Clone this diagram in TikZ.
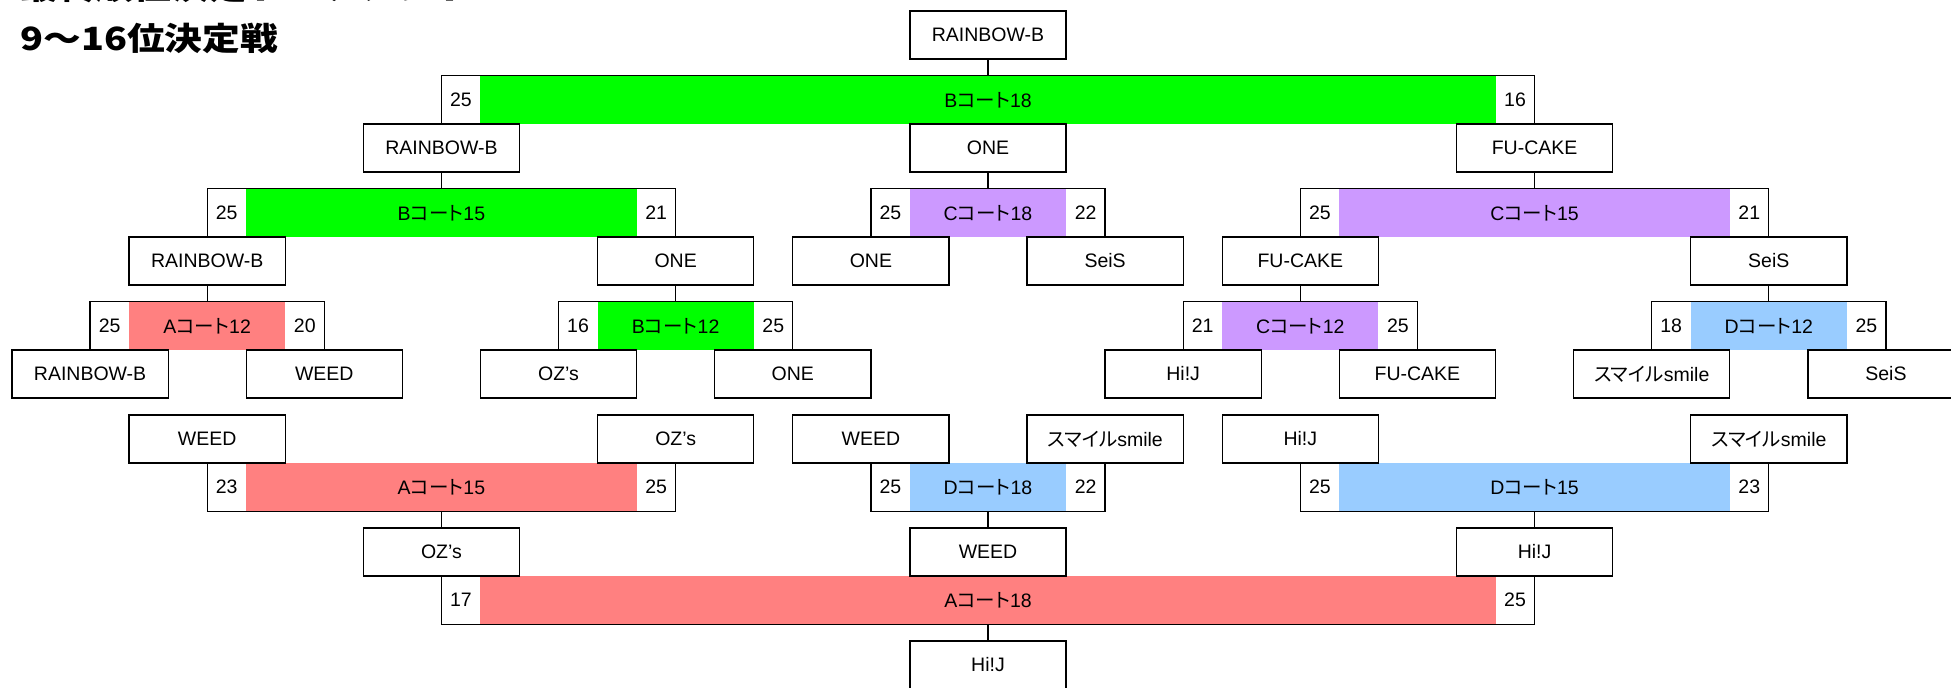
\documentclass[tikz,border=0pt]{standalone}
\usepackage{graphicx}
\usepackage{fontspec}
\setmainfont{Liberation Sans}
\newfontfamily\jp{Noto Sans CJK JP}[RawFeature=+palt]
\newfontfamily\jpt{Noto Sans CJK JP}
\definecolor{cgreen}{HTML}{00FF00}
\definecolor{cred}{HTML}{FF8080}
\definecolor{cpurple}{HTML}{CC99FF}
\definecolor{cblue}{HTML}{99CCFF}
\newcommand\kt{{\jp コート}}
\newcommand\sm{{\jp スマイル}smile}
\newcommand\team[4]{\node[team] (#1) at ({12+39.04*#2},#3) {#4};}
\newcommand\mbar[8]{%
  \pgfmathsetmacro\mw{(#3-#2-2)*19.52}%
  \node[court, fill=#5, minimum width=\mw pt] (#1) at ({12+39.04*(#2+#3)/2},#4) {#6};
  \node[score] (#1l) at ({12+39.04*(#2+0.5)},#4) {#7};
  \node[score] (#1r) at ({12+39.04*(#3-0.5)},#4) {#8};
}
\begin{document}
\begin{tikzpicture}[x=0.5pt,y=-0.5pt,
  txt/.style={font=\fontsize{9.75pt}{11pt}\selectfont},
  team/.style={txt, draw, line width=0.65pt, fill=white, minimum width=78.08pt, minimum height=24pt, inner sep=0pt},
  court/.style={txt, inner sep=0pt, minimum height=24pt},
  score/.style={txt, inner sep=0pt, minimum width=19.52pt, minimum height=24pt},
  titlefont/.style={font=\jpt\bfseries\fontsize{16pt}{18pt}\selectfont},
  link/.style={line width=0.65pt}]
\useasboundingbox (0,0) rectangle (1951,687);
% titles
\node[anchor=base west, inner sep=0pt, titlefont] (title1) at (20,-1) {\scalebox{1.18}[1]{最終順位決定トーナメント}};
\node[anchor=base west, inner sep=0pt, titlefont] (title2) at (20,50) {\scalebox{1.18}[1]{9〜16位決定戦}};
% match bars
\mbar{m1}{11}{39}{100}{cgreen}{B\kt18}{25}{16}
\mbar{m2}{5}{17}{213}{cgreen}{B\kt15}{25}{21}
\mbar{m3}{22}{28}{213}{cpurple}{C\kt18}{25}{22}
\mbar{m4}{33}{45}{213}{cpurple}{C\kt15}{25}{21}
\mbar{m5}{2}{8}{326}{cred}{A\kt12}{25}{20}
\mbar{m6}{14}{20}{326}{cgreen}{B\kt12}{16}{25}
\mbar{m7}{30}{36}{326}{cpurple}{C\kt12}{21}{25}
\mbar{m8}{42}{48}{326}{cblue}{D\kt12}{18}{25}
\mbar{l1}{5}{17}{487}{cred}{A\kt15}{23}{25}
\mbar{l2}{22}{28}{487}{cblue}{D\kt18}{25}{22}
\mbar{l3}{33}{45}{487}{cblue}{D\kt15}{25}{23}
\mbar{l4}{11}{39}{600}{cred}{A\kt18}{17}{25}
% teams
\team{t0}{25}{35}{RAINBOW-B}
\team{r2a}{11}{148}{RAINBOW-B}
\team{r2b}{25}{148}{ONE}
\team{r2c}{39}{148}{FU-CAKE}
\team{r3a}{5}{261}{RAINBOW-B}
\team{r3b}{17}{261}{ONE}
\team{r3c}{22}{261}{ONE}
\team{r3d}{28}{261}{SeiS}
\team{r3e}{33}{261}{FU-CAKE}
\team{r3f}{45}{261}{SeiS}
\team{r4a}{2}{374}{RAINBOW-B}
\team{r4b}{8}{374}{WEED}
\team{r4c}{14}{374}{OZ’s}
\team{r4d}{20}{374}{ONE}
\team{r4e}{30}{374}{Hi!J}
\team{r4f}{36}{374}{FU-CAKE}
\team{r4g}{42}{374}{\sm}
\team{r4h}{48}{374}{SeiS}
\team{r5a}{5}{439}{WEED}
\team{r5b}{17}{439}{OZ’s}
\team{r5c}{22}{439}{WEED}
\team{r5d}{28}{439}{\sm}
\team{r5e}{33}{439}{Hi!J}
\team{r5f}{45}{439}{\sm}
\team{r6a}{11}{552}{OZ’s}
\team{r6b}{25}{552}{WEED}
\team{r6c}{39}{552}{Hi!J}
\team{r7}{25}{665}{Hi!J}
% brackets, upper half
\draw[link] (r2a.north) |- (m1.north) -| (r2c.north);
\draw[link] (t0.south) -- (m1.north);
\draw[link] (r3a.north) |- (m2.north) -| (r3b.north);
\draw[link] (r2a.south) -- (m2.north);
\draw[link] (r3c.north) |- (m3.north) -| (r3d.north);
\draw[link] (r2b.south) -- (m3.north);
\draw[link] (r3e.north) |- (m4.north) -| (r3f.north);
\draw[link] (r2c.south) -- (m4.north);
\draw[link] (r4a.north) |- (m5.north) -| (r4b.north);
\draw[link] (r3a.south) -- (m5.north);
\draw[link] (r4c.north) |- (m6.north) -| (r4d.north);
\draw[link] (r3b.south) -- (m6.north);
\draw[link] (r4e.north) |- (m7.north) -| (r4f.north);
\draw[link] (r3e.south) -- (m7.north);
\draw[link] (r4g.north) |- (m8.north) -| (r4h.north);
\draw[link] (r3f.south) -- (m8.north);
% brackets, lower half
\draw[link] (r5a.south) |- (l1.south) -| (r5b.south);
\draw[link] (l1.south) -- (r6a.north);
\draw[link] (r5c.south) |- (l2.south) -| (r5d.south);
\draw[link] (l2.south) -- (r6b.north);
\draw[link] (r5e.south) |- (l3.south) -| (r5f.south);
\draw[link] (l3.south) -- (r6c.north);
\draw[link] (r6a.south) |- (l4.south) -| (r6c.south);
\draw[link] (l4.south) -- (r7.north);
\end{tikzpicture}
\end{document}
